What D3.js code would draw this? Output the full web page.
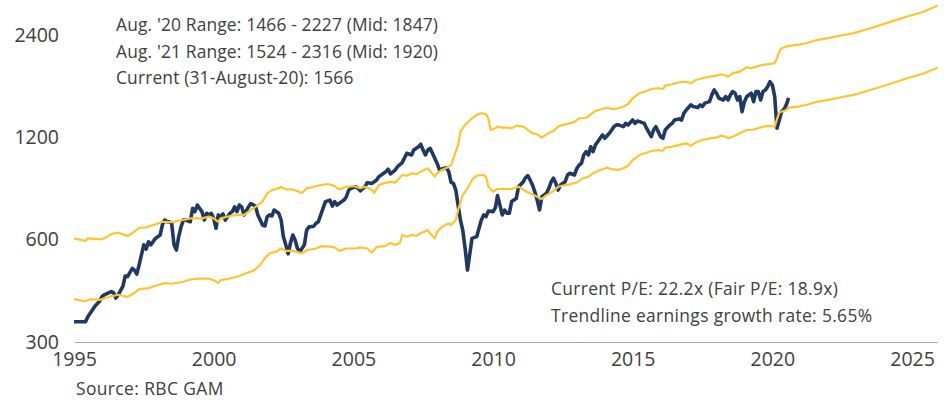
<!DOCTYPE html>
<html>
<head>
<meta charset="utf-8">
<script src="https://cdn.jsdelivr.net/npm/d3@7"></script>
<style>
  body { margin: 0; background: #ffffff; }
  svg { display: block; }
  text { font-family: "Open Sans", sans-serif; fill: #404040; }
</style>
</head>
<body>
<svg id="chart" width="949" height="400"></svg>
<script>
// Monthly index level (end of month), Jan 1995 - Aug 2020
const indexLevels = [
  ["1995-01",344],["1995-06",344],["1995-07",356],["1995-09",373],["1995-10",382],["1995-12",395],
  ["1996-01",408],["1996-02",413],["1996-05",422],["1996-06",419],["1996-07",404],["1996-08",413],["1996-10",437],["1996-11",469],["1996-12",467],
  ["1997-02",494],["1997-03",488],["1997-04",475],["1997-05",505],["1997-06",541],["1997-07",579],["1997-08",562],["1997-09",591],["1997-10",579],["1997-12",605],
  ["1998-01",612],["1998-02",619],["1998-03",662],["1998-04",685],["1998-05",677],["1998-06",677],["1998-07",670],["1998-08",579],["1998-09",559],["1998-10",612],["1998-11",654],["1998-12",685],
  ["1999-01",685],["1999-03",677],["1999-04",742],["1999-05",725],["1999-06",758],["1999-08",725],["1999-09",685],["1999-10",717],["1999-11",709],["1999-12",717],
  ["2000-01",693],["2000-02",648],["2000-03",709],["2000-04",701],["2000-05",714],["2000-06",685],["2000-08",717],["2000-09",725],["2000-10",749],["2000-11",725],["2000-12",758],
  ["2001-01",749],["2001-02",709],["2001-04",749],["2001-05",766],["2001-07",753],["2001-08",709],["2001-10",662],["2001-11",658],["2001-12",701],
  ["2002-01",709],["2002-02",704],["2002-03",733],["2002-05",717],["2002-06",685],["2002-07",612],["2002-08",579],["2002-09",545],["2002-10",586],["2002-11",619],["2002-12",598],
  ["2003-01",565],["2003-02",553],["2003-04",579],["2003-05",640],["2003-06",654],["2003-08",657],["2003-09",670],["2003-10",677],["2003-11",709],["2003-12",741],
  ["2004-01",776],["2004-03",784],["2004-04",753],["2004-05",776],["2004-06",758],["2004-08",776],["2004-09",784],["2004-10",802],["2004-11",839],["2004-12",849],
  ["2005-02",858],["2005-03",849],["2005-04",835],["2005-06",858],["2005-07",882],["2005-09",878],["2005-10",888],["2005-11",898],["2005-12",919],
  ["2006-02",940],["2006-03",950],["2006-04",966],["2006-05",936],["2006-07",961],["2006-08",983],["2006-10",1010],["2006-12",1076],
  ["2007-02",1064],["2007-03",1100],["2007-05",1125],["2007-06",1144],["2007-07",1100],["2007-08",1064],["2007-09",1100],["2007-10",1113],["2007-11",1076],["2007-12",1040],
  ["2008-01",1005],["2008-02",961],["2008-03",967],["2008-05",976],["2008-06",950],["2008-07",884],["2008-08",878],["2008-09",839],["2008-10",758],["2008-11",685],["2008-12",640],
  ["2009-01",565],["2009-02",488],["2009-03",541],["2009-04",605],["2009-06",612],["2009-07",647],["2009-08",685],["2009-09",709],["2009-10",701],["2009-11",728],
  ["2010-01",725],["2010-02",745],["2010-03",808],["2010-04",758],["2010-05",709],["2010-06",733],["2010-07",717],["2010-08",717],["2010-09",776],["2010-11",793],["2010-12",858],
  ["2011-02",888],["2011-03",912],["2011-04",925],["2011-05",898],["2011-06",868],["2011-07",829],["2011-08",784],["2011-09",733],["2011-10",802],["2011-12",821],
  ["2012-01",849],["2012-02",888],["2012-03",909],["2012-04",878],["2012-05",839],["2012-06",868],["2012-08",888],["2012-09",929],["2012-10",940],["2012-12",929],
  ["2013-01",972],["2013-02",994],["2013-03",1005],["2013-04",1064],["2013-05",1088],["2013-06",1064],["2013-07",1125],["2013-08",1088],["2013-09",1139],["2013-10",1164],["2013-11",1191],["2013-12",1219],
  ["2014-01",1191],["2014-03",1232],["2014-04",1260],["2014-05",1289],["2014-06",1304],["2014-07",1304],["2014-09",1289],["2014-10",1318],["2014-11",1304],
  ["2015-01",1348],["2015-02",1318],["2015-03",1339],["2015-04",1333],["2015-06",1318],["2015-07",1275],["2015-09",1204],["2015-10",1260],["2015-11",1289],["2015-12",1246],
  ["2016-01",1204],["2016-02",1191],["2016-03",1260],["2016-05",1304],["2016-06",1318],["2016-07",1348],["2016-09",1358],["2016-10",1348],["2016-11",1412],["2016-12",1443],
  ["2017-02",1494],["2017-03",1477],["2017-05",1466],["2017-06",1494],["2017-07",1477],["2017-08",1511],["2017-10",1527],["2017-11",1598],["2017-12",1652],
  ["2018-01",1616],["2018-02",1562],["2018-04",1544],["2018-05",1580],["2018-06",1544],["2018-07",1598],["2018-08",1634],["2018-09",1616],["2018-10",1544],["2018-11",1580],["2018-12",1427],
  ["2019-01",1526],["2019-02",1580],["2019-04",1616],["2019-05",1526],["2019-06",1634],["2019-07",1634],["2019-08",1544],["2019-09",1634],["2019-10",1652],["2019-11",1690],["2019-12",1747],
  ["2020-01",1709],["2020-02",1580],["2020-03",1275],["2020-04",1348],["2020-05",1427],["2020-06",1450],["2020-07",1494],["2020-08",1566]
];

// Upper edge of the fair-value channel, with projection to Dec 2025
const upperBand = [
  ["1995-01",605],["1995-06",595],["1995-07",605],["1996-01",601],["1996-04",615],["1996-05",623],["1996-08",629],["1996-12",615],
  ["1997-03",633],["1997-05",650],["1997-08",652],["1997-12",665],["1998-03",677],["1998-07",675],["1998-12",685],
  ["1999-03",693],["1999-06",693],["1999-08",693],["1999-11",701],["2000-01",693],["2000-03",677],["2000-04",693],["2000-08",704],["2000-11",709],
  ["2001-02",709],["2001-05",733],["2001-07",749],["2001-10",776],["2001-12",820],["2002-02",839],["2002-05",849],["2002-06",858],["2002-08",843],["2002-11",843],
  ["2003-03",823],["2003-05",849],["2003-08",858],["2003-11",868],["2004-02",874],["2004-05",862],["2004-07",843],["2004-10",858],
  ["2005-01",862],["2005-04",849],["2005-06",858],["2005-09",839],["2005-10",823],["2005-12",868],["2006-02",878],["2006-05",888],["2006-07",882],["2006-10",929],["2006-12",925],
  ["2007-02",940],["2007-04",934],["2007-06",950],["2007-09",972],["2007-10",955],["2007-12",919],["2008-01",940],["2008-03",961],["2008-06",983],["2008-07",994],["2008-08",1040],["2008-10",1139],["2008-11",1246],
  ["2009-01",1304],["2009-04",1364],["2009-06",1396],["2009-08",1412],["2009-10",1402],["2009-11",1364],["2009-12",1260],
  ["2010-02",1275],["2010-03",1289],["2010-05",1280],["2010-08",1280],["2010-09",1275],["2010-11",1298],
  ["2011-02",1289],["2011-04",1260],["2011-06",1232],["2011-08",1224],["2011-10",1196],["2011-12",1224],
  ["2012-03",1251],["2012-05",1289],["2012-07",1304],["2012-10",1318],["2012-12",1333],
  ["2013-02",1364],["2013-05",1369],["2013-07",1400],["2013-09",1434],["2013-12",1453],["2014-02",1466],["2014-04",1453],["2014-06",1453],["2014-09",1477],["2014-11",1500],
  ["2015-01",1562],["2015-04",1616],["2015-07",1640],["2015-09",1663],["2015-12",1671],["2016-02",1663],["2016-03",1701],["2016-06",1717],["2016-09",1741],["2016-12",1747],
  ["2017-02",1728],["2017-04",1767],["2017-07",1788],["2017-10",1808],["2018-01",1821],["2018-03",1838],["2018-05",1821],["2018-06",1808],["2018-08",1849],["2018-11",1870],
  ["2019-02",1927],["2019-04",1914],["2019-06",1935],["2019-09",1958],["2019-12",1971],["2020-02",1980],["2020-03",2049],["2020-04",2145],["2020-05",2191],["2020-07",2215],["2020-08",2227],
  ["2020-12",2241],["2021-04",2271],["2021-08",2316],["2022-01",2347],["2022-06",2385],["2022-12",2428],["2023-06",2496],["2023-12",2571],
  ["2024-06",2650],["2024-12",2731],["2025-06",2806],["2025-12",2925]
];

// Lower edge of the fair-value channel, with projection to Dec 2025
const lowerBand = [
  ["1995-01",401],["1995-06",395],["1995-08",401],["1995-12",399],["1996-04",407],["1996-08",413],["1996-12",407],
  ["1997-03",418],["1997-05",429],["1997-09",432],["1997-12",439],["1998-04",447],["1998-07",445],["1998-12",451],
  ["1999-03",458],["1999-07",461],["1999-11",461],["2000-01",456],["2000-03",447],["2000-04",456],["2000-08",461],["2000-12",469],
  ["2001-03",478],["2001-06",486],["2001-09",505],["2001-11",529],["2002-01",547],["2002-04",553],["2002-06",565],["2002-08",556],["2002-11",556],
  ["2003-03",547],["2003-05",559],["2003-09",565],["2003-11",573],["2004-02",573],["2004-05",569],["2004-07",556],["2004-10",565],
  ["2005-02",565],["2005-04",569],["2005-07",565],["2005-09",549],["2005-11",571],["2006-02",573],["2006-05",586],["2006-07",579],["2006-09",586],["2006-10",619],["2006-12",612],
  ["2007-02",619],["2007-04",616],["2007-06",626],["2007-09",640],["2007-10",626],["2007-12",605],["2008-01",633],["2008-03",654],["2008-06",670],["2008-07",662],["2008-09",685],["2008-10",733],["2008-12",811],
  ["2009-02",849],["2009-04",898],["2009-06",925],["2009-09",929],["2009-10",919],["2009-11",858],
  ["2010-01",829],["2010-03",845],["2010-05",845],["2010-08",845],["2010-10",849],["2010-12",858],
  ["2011-03",833],["2011-06",815],["2011-08",802],["2011-10",790],["2011-12",811],
  ["2012-03",833],["2012-05",858],["2012-08",868],["2012-10",872],["2013-01",884],["2013-03",904],["2013-06",919],["2013-08",940],["2013-11",961],
  ["2014-02",976],["2014-04",967],["2014-07",961],["2014-09",972],["2014-11",989],
  ["2015-01",1028],["2015-04",1064],["2015-07",1080],["2015-09",1093],["2015-12",1100],["2016-02",1095],["2016-03",1118],["2016-06",1125],["2016-09",1139],["2016-12",1151],
  ["2017-02",1133],["2017-04",1156],["2017-07",1177],["2017-10",1191],["2018-01",1196],["2018-03",1213],["2018-05",1204],["2018-06",1191],["2018-08",1204],["2018-11",1232],
  ["2019-02",1260],["2019-04",1260],["2019-06",1269],["2019-09",1289],["2019-12",1295],["2020-02",1289],["2020-03",1354],["2020-04",1418],["2020-07",1443],["2020-08",1466],
  ["2020-12",1475],["2021-04",1495],["2021-08",1524],["2022-01",1545],["2022-06",1570],["2022-12",1598],["2023-06",1643],["2023-12",1692],
  ["2024-06",1744],["2024-12",1798],["2025-06",1847],["2025-12",1920]
];

const yTickValues = [300, 600, 1200, 2400];
const xTickYears = [1995, 2000, 2005, 2010, 2015, 2020, 2025];
const currentPE = "22.2x";
const fairPE = "18.9x";
const trendGrowth = "5.65%";
const sourceNote = "Source: RBC GAM";

const parseMonth = d3.timeParse("%Y-%m");
const toPoints = rows => rows.map(([m, v]) => ({ date: parseMonth(m), value: v }));
const indexPts = toPoints(indexLevels);
const upperPts = toPoints(upperBand);
const lowerPts = toPoints(lowerBand);

const svg = d3.select("#chart");

const x = d3.scaleTime()
  .domain([new Date(1995, 0, 1), new Date(2026, 0, 1)])
  .range([74, 940]);

const y = d3.scaleLog()
  .domain([300, 2400])
  .range([342, 34.8]);

// x axis: baseline with year labels
const xAxis = d3.axisBottom(x)
  .tickValues(xTickYears.map(yr => new Date(yr, 0, 1)))
  .tickFormat(d3.timeFormat("%Y"))
  .tickSize(0)
  .tickSizeOuter(0)
  .tickPadding(10);

const gx = svg.append("g")
  .attr("transform", "translate(0,342)")
  .call(xAxis);
gx.select(".domain").attr("stroke", "#a6a6a6").attr("stroke-width", 1)
  .attr("d", `M${x(new Date(1995, 0, 1)) + 1},0.5H938`);
gx.selectAll("text").attr("font-size", 19.5).attr("fill", "#404040")
  .style("font-family", '"Open Sans", sans-serif');

// y axis: log-scale price labels only
const yAxis = d3.axisLeft(y)
  .tickValues(yTickValues)
  .tickFormat(d3.format("d"))
  .tickSize(0)
  .tickPadding(15);

const gy = svg.append("g")
  .attr("transform", "translate(74,0)")
  .call(yAxis);
gy.select(".domain").remove();
gy.selectAll("text").attr("font-size", 19.5).attr("fill", "#404040")
  .style("font-family", '"Open Sans", sans-serif');

const line = d3.line()
  .x(d => x(d.date))
  .y(d => y(d.value));

const navy = "#1f3864";
const gold = "#fdc52f";

svg.append("path")
  .datum(indexPts)
  .attr("fill", "none")
  .attr("stroke", navy)
  .attr("stroke-width", 3.6)
  .attr("stroke-linejoin", "round")
  .attr("d", line);

[upperPts, lowerPts].forEach(pts => {
  svg.append("path")
    .datum(pts)
    .attr("fill", "none")
    .attr("stroke", gold)
    .attr("stroke-width", 2.2)
    .attr("stroke-linejoin", "round")
    .attr("d", line);
});

// Range annotations derived from the channel values
const valueAt = (rows, m) => rows.find(r => r[0] === m)[1];
const lo20 = valueAt(lowerBand, "2020-08"), hi20 = valueAt(upperBand, "2020-08");
const lo21 = valueAt(lowerBand, "2021-08"), hi21 = valueAt(upperBand, "2021-08");
const current = indexLevels[indexLevels.length - 1][1];

const notes = [
  `Aug. '20 Range: ${lo20} - ${hi20} (Mid: ${Math.round((lo20 + hi20) / 2)})`,
  `Aug. '21 Range: ${lo21} - ${hi21} (Mid: ${Math.round((lo21 + hi21) / 2)})`,
  `Current (31-August-20): ${current}`
];
svg.append("g").selectAll("text")
  .data(notes)
  .join("text")
  .attr("x", 116)
  .attr("y", (d, i) => 31 + i * 26.6)
  .attr("font-size", 17.4)
  .attr("letter-spacing", 0.15)
  .text(d => d);

const peNotes = [
  `Current P/E: ${currentPE} (Fair P/E: ${fairPE})`,
  `Trendline earnings growth rate: ${trendGrowth}`
];
svg.append("g").selectAll("text")
  .data(peNotes)
  .join("text")
  .attr("x", 551)
  .attr("y", (d, i) => 295 + i * 26.7)
  .attr("font-size", 17.4)
  .attr("letter-spacing", 0.35)
  .text(d => d);

svg.append("text")
  .attr("x", 76)
  .attr("y", 395)
  .attr("font-size", 17.4)
  .attr("letter-spacing", 0.4)
  .text(sourceNote);
</script>
</body>
</html>
